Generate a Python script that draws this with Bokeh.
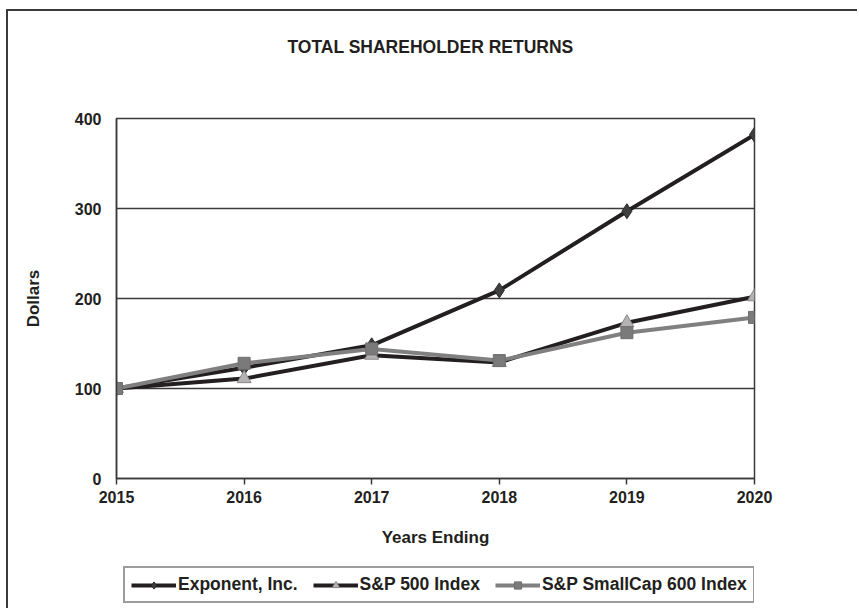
from bokeh.plotting import figure
from bokeh.models import FixedTicker, Range1d, Legend, LegendItem
from bokeh.layouts import column
from bokeh.embed import file_html
from bokeh.resources import INLINE

years = [2015, 2016, 2017, 2018, 2019, 2020]
exponent = [100, 123, 148, 209, 297, 382]
sp500 = [100, 111, 137, 129, 173, 202]
smallcap = [100, 128, 144, 131, 162, 179]
series_names = ["Exponent, Inc.", "S&P 500 Index", "S&P SmallCap 600 Index"]
y_ticks = [0, 100, 200, 300, 400]

FONT = "Liberation Sans"
DARK = "#231f20"
GRID = "#3a3a3a"
BORDER = "2px solid #3a3a3a"

# series styles
styles = [
    dict(line_color=DARK, marker="diamond", size=15, fill_color="#3f3f3f", mline="#2a2a2a"),
    dict(line_color=DARK, marker="triangle", size=14, fill_color="#b3b3b3", mline="#8a8a8a"),
    dict(line_color="#808080", marker="square", size=12, fill_color="#7a7a7a", mline="#6e6e6e"),
]
series = [exponent, sp500, smallcap]

p = figure(width=851, height=549, output_backend="svg", toolbar_location=None,
           x_range=Range1d(2015, 2020), y_range=Range1d(0, 400),
           min_border_left=108, min_border_right=105, min_border_top=107,
           min_border_bottom=82, title="TOTAL SHAREHOLDER RETURNS")
p.styles = {"border-top": BORDER, "border-left": BORDER}

p.title.align = "center"
p.title.text_font = FONT
p.title.text_font_size = "17.5px"
p.title.text_font_style = "bold"
p.title.text_color = DARK
p.title.standoff = 0
p.title.padding = dict(left=0, right=10, top=0, bottom=62)

p.outline_line_color = GRID
p.outline_line_width = 1.5

p.xgrid.visible = False
p.ygrid.ticker = FixedTicker(ticks=y_ticks)
p.ygrid.grid_line_color = GRID
p.ygrid.grid_line_width = 1.3

p.xaxis.ticker = FixedTicker(ticks=years)
p.yaxis.ticker = FixedTicker(ticks=y_ticks)
for ax in (p.xaxis[0], p.yaxis[0]):
    ax.axis_line_color = GRID
    ax.axis_line_width = 1.5
    ax.major_tick_line_color = GRID
    ax.major_tick_line_width = 1.5
    ax.minor_tick_line_color = None
    ax.major_tick_in = 0
    ax.major_label_text_font = FONT
    ax.major_label_text_font_size = "16px"
    ax.major_label_text_font_style = "bold"
    ax.major_label_text_color = DARK
    ax.axis_label_text_font = FONT
    ax.axis_label_text_font_size = "17px"
    ax.axis_label_text_font_style = "bold"
    ax.axis_label_text_color = DARK

p.xaxis.major_tick_out = 6
p.xaxis.major_label_standoff = 6
p.xaxis.axis_label = "Years Ending"
p.xaxis.axis_label_standoff = 22
p.yaxis.major_tick_out = 0
p.yaxis.major_label_standoff = 15
p.yaxis.axis_label = "Dollars"
p.yaxis.axis_label_standoff = 29

for vals, st in zip(series, styles):
    p.line(years, vals, line_color=st["line_color"], line_width=4)
    p.scatter(years, vals, marker=st["marker"], size=st["size"],
              fill_color=st["fill_color"], line_color=st["mline"], line_width=1)

# legend strip below the chart (its own canvas, so the legend is not clipped)
q = figure(width=851, height=50, output_backend="svg", toolbar_location=None,
           x_range=Range1d(0, 1), y_range=Range1d(0, 1),
           x_axis_location=None, y_axis_location=None,
           min_border_left=0, min_border_right=0, min_border_top=0, min_border_bottom=0)
q.styles = {"border-left": BORDER}
q.outline_line_color = None
q.xgrid.visible = False
q.ygrid.visible = False

nan = float("nan")
items = []
for name, st in zip(series_names, styles):
    # legend-key renderers only (no visible data in this strip)
    lr = q.line([nan], [nan], line_color=st["line_color"], line_width=4)
    sr = q.scatter([nan], [nan], marker=st["marker"], size=st["size"] - 3,
                   fill_color=st["fill_color"], line_color=st["mline"], line_width=1)
    items.append(LegendItem(label=name, renderers=[lr, sr]))

lg = Legend(items=items)
lg.orientation = "horizontal"
lg.location = (7, 5)
lg.margin = 0
lg.border_line_color = GRID
lg.border_line_width = 2
lg.background_fill_color = "white"
lg.background_fill_alpha = 1
lg.label_text_font = FONT
lg.label_text_font_size = "17.5px"
lg.label_text_font_style = "bold"
lg.label_text_color = DARK
lg.glyph_width = 45
lg.glyph_height = 18
lg.label_height = 18
lg.label_standoff = 2
lg.spacing = 15
lg.padding = 6
q.add_layout(lg, "center")

layout = column(p, q, spacing=0)
layout.styles = {"margin-left": "6px", "margin-top": "9px"}

open("out.html", "w").write(file_html(layout, INLINE))
